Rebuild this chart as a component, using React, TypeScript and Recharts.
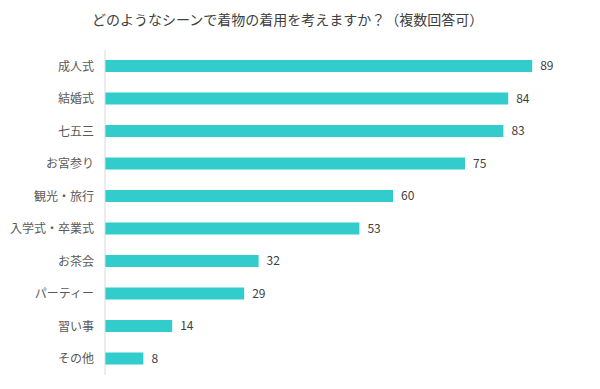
import { Bar, BarChart, LabelList, XAxis, YAxis } from "recharts";

const scenes = [
  "成人式",
  "結婚式",
  "七五三",
  "お宮参り",
  "観光・旅行",
  "入学式・卒業式",
  "お茶会",
  "パーティー",
  "習い事",
  "その他",
];
const counts = [89, 84, 83, 75, 60, 53, 32, 29, 14, 8];

const data = scenes.map((scene, i) => ({ scene, count: counts[i] }));

const font = '"Noto Sans CJK JP", "Noto Sans", sans-serif';

export default function App() {
  return (
    <div
      style={{
        position: "absolute",
        left: 0,
        top: 0,
        width: 600,
        height: 389,
        background: "#fff",
        fontFamily: font,
      }}
    >
      <div
        style={{
          position: "absolute",
          left: 92,
          top: 9,
          fontSize: 14,
          color: "#404040",
          whiteSpace: "nowrap",
        }}
      >
        どのようなシーンで着物の着用を考えますか？（複数回答可）
      </div>
      <BarChart
        width={600}
        height={389}
        data={data}
        layout="vertical"
        margin={{ top: 50, right: 15, bottom: 14, left: 0 }}
        barSize={12}
      >
        <XAxis type="number" domain={[0, 100]} hide />
        <YAxis
          type="category"
          dataKey="scene"
          width={105}
          tickLine={false}
          axisLine={{ stroke: "#d9d9d9" }}
          tickMargin={5}
          tick={{ fontSize: 12, fill: "#595959", fontFamily: font }}
          interval={0}
        />
        <Bar dataKey="count" fill="#33CCCC" isAnimationActive={false}>
          <LabelList
            dataKey="count"
            position="right"
            offset={8}
            style={{ fontSize: 12, fill: "#404040", fontFamily: font }}
          />
        </Bar>
      </BarChart>
    </div>
  );
}
